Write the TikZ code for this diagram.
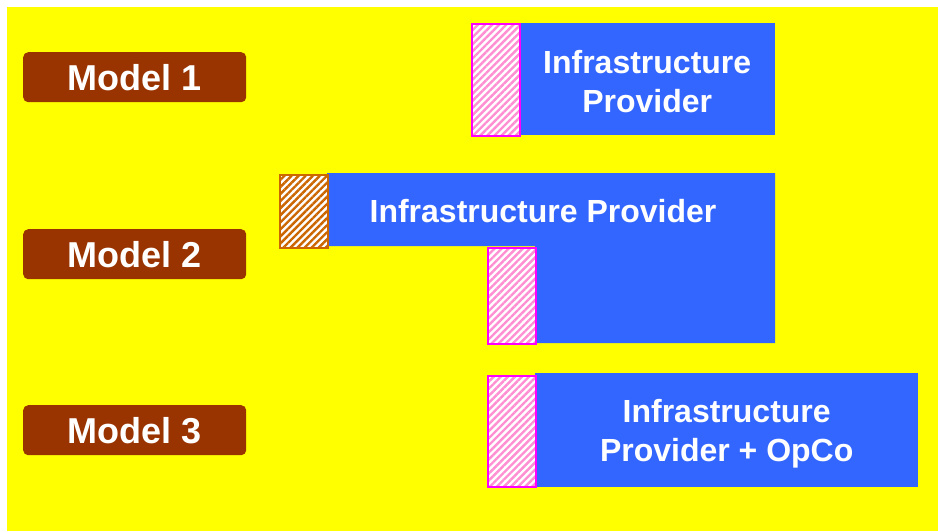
\documentclass[tikz,border=0pt]{standalone}
\usepackage{fontspec}
\setmainfont{Liberation Sans}
\usetikzlibrary{patterns.meta}
\definecolor{bgyellow}{HTML}{FFFF00}
\definecolor{modelbrown}{HTML}{993300}
\definecolor{provblue}{HTML}{3366FF}
\definecolor{hpink}{HTML}{FF8FD2}
\definecolor{hmagenta}{HTML}{FF00FF}
\definecolor{horange}{HTML}{CC6600}
\begin{document}
\begin{tikzpicture}[x=1pt,y=-1pt,
  model/.style={fill=modelbrown, rounded corners=5pt, text=white,
    font=\bfseries\fontsize{36}{40}\selectfont, minimum width=223pt,
    minimum height=50pt, inner sep=0pt, anchor=north west},
  provider/.style={fill=provblue, inner sep=0pt, anchor=north west},
  provtext/.style={text=white, align=center,
    font=\bfseries\fontsize{32}{39}\selectfont, inner sep=0pt},
  pinkhatch/.style={draw=hmagenta, line width=1.8pt, preaction={fill=white},
    pattern={Lines[angle=45,distance=5pt,line width=2.4pt]}, pattern color=hpink,
    inner sep=0pt, anchor=north west},
  orangehatch/.style={draw=horange, line width=1.8pt, preaction={fill=white},
    pattern={Lines[angle=45,distance=5pt,line width=2.4pt]}, pattern color=horange,
    inner sep=0pt, anchor=north west}
]
\useasboundingbox (0,0) rectangle (938,531);
\fill[bgyellow] (7,7) rectangle (938,531);

% model labels
\node[model] (m1) at (23,52) {Model 1};
\node[model] (m2) at (23,229) {Model 2};
\node[model] (m3) at (23,405) {Model 3};

% Model 1
\node[provider, minimum width=256pt, minimum height=112pt] (p1) at (519,23) {};
\node[provtext] (t1) at ([yshift=-2pt]p1.center) {Infrastructure\\Provider};
\node[pinkhatch, minimum width=48pt, minimum height=112pt] (h1) at (471,23) {};

% Model 2
\fill[provblue] (327,173) -- (775,173) -- (775,343) -- (535,343) -- (535,246) -- (327,246) -- cycle;
\node[provtext] (p2) at (543,211) {Infrastructure Provider};
\node[orangehatch, minimum width=48pt, minimum height=73pt] (o2) at (279,174) {};
\node[pinkhatch, minimum width=48pt, minimum height=96pt] (h2) at (487,247) {};

% Model 3
\node[provider, minimum width=383pt, minimum height=114pt] (p3) at (535,373) {};
\node[provtext] (t3) at ([yshift=-4pt]p3.center) {Infrastructure\\Provider + OpCo};
\node[pinkhatch, minimum width=48pt, minimum height=111pt] (h3) at (487,375) {};
\end{tikzpicture}
\end{document}
